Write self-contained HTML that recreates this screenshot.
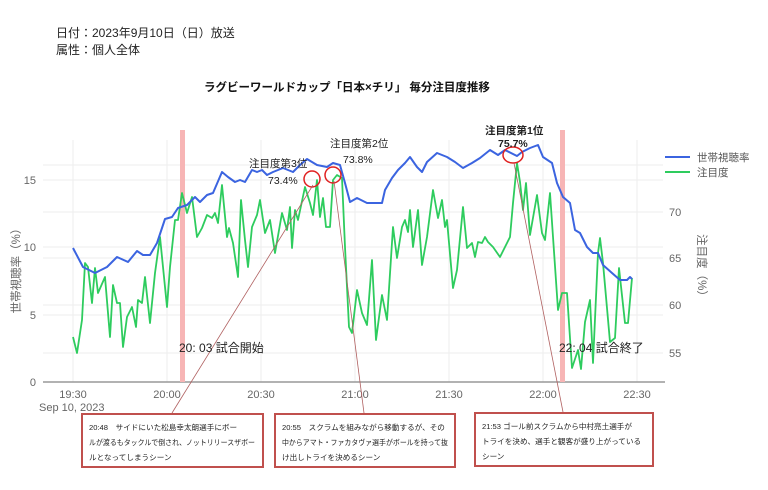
<!DOCTYPE html>
<html><head><meta charset="utf-8"><style>
html,body{margin:0;padding:0;background:#fff;width:768px;height:490px;overflow:hidden}
svg{font-family:"Liberation Sans","Noto Sans CJK JP",sans-serif}
</style></head><body>
<svg width="768" height="490" viewBox="0 0 768 490" xmlns="http://www.w3.org/2000/svg">
<text x="56" y="37" font-size="12" fill="#222">日付：2023年9月10日（日）放送</text>
<text x="56" y="54" font-size="12" fill="#222">属性：個人全体</text>
<text x="204" y="91" font-size="11.5" font-weight="bold" fill="#111">ラグビーワールドカップ「日本×チリ」 毎分注目度推移</text>
<g stroke="#eeeeee" stroke-width="1">
<line x1="73" y1="140" x2="73" y2="382"/><line x1="167" y1="140" x2="167" y2="382"/><line x1="261" y1="140" x2="261" y2="382"/><line x1="355" y1="140" x2="355" y2="382"/><line x1="449" y1="140" x2="449" y2="382"/><line x1="543" y1="140" x2="543" y2="382"/><line x1="637" y1="140" x2="637" y2="382"/>
<line x1="43" y1="180" x2="663" y2="180"/><line x1="43" y1="247" x2="663" y2="247"/><line x1="43" y1="315" x2="663" y2="315"/>
<line x1="43" y1="212" x2="663" y2="212"/><line x1="43" y1="258" x2="663" y2="258"/><line x1="43" y1="305" x2="663" y2="305"/><line x1="43" y1="353" x2="663" y2="353"/><line x1="43" y1="165" x2="663" y2="165"/>
</g>
<line x1="43" y1="382" x2="665" y2="382" stroke="#999" stroke-width="1.5"/>
<rect x="180" y="130" width="5" height="252" fill="#f7b5b5"/>
<rect x="560" y="130" width="5" height="252" fill="#f7b5b5"/>
<g font-size="11" fill="#666">
<text x="36" y="386" text-anchor="end">0</text><text x="36" y="319" text-anchor="end">5</text><text x="36" y="251" text-anchor="end">10</text><text x="36" y="184" text-anchor="end">15</text>
<text x="669" y="216">70</text><text x="669" y="262">65</text><text x="669" y="309">60</text><text x="669" y="357">55</text>
<text x="73" y="398" text-anchor="middle">19:30</text><text x="167" y="398" text-anchor="middle">20:00</text><text x="261" y="398" text-anchor="middle">20:30</text><text x="355" y="398" text-anchor="middle">21:00</text><text x="449" y="398" text-anchor="middle">21:30</text><text x="543" y="398" text-anchor="middle">22:00</text><text x="637" y="398" text-anchor="middle">22:30</text>
<text x="39" y="411">Sep 10, 2023</text>
</g>
<text transform="translate(20,268) rotate(-90)" font-size="11.5" fill="#666" text-anchor="middle">世帯視聴率（%）</text>
<text transform="translate(698,268) rotate(90)" font-size="11.5" fill="#666" text-anchor="middle">注目度（%）</text>
<polyline fill="none" stroke="#2ecc5e" stroke-width="1.8" stroke-linejoin="round" points="73,337 77,353 82,320 85,263 88,267 92,303 95,268 98,293 105,277 110,337 113,285 117,303 120,303 123,347 127,317 132,307 136,327 138,300 142,303 145,277 150,323 155,273 160,237 167,307 170,267 175,220 178,220 182,193 187,213 192,197 197,237 202,228 207,215 212,218 215,213 218,223 222,185 227,237 229,228 233,243 238,277 241,200 245,240 248,267 252,227 257,215 260,200 265,233 270,220 275,253 282,213 287,230 290,207 292,248 295,210 298,220 305,187 310,203 313,215 317,180 320,217 323,198 326,227 330,227 333,180 337,175 342,178 345,247 349,327 352,333 357,290 362,313 367,325 372,260 376,340 382,295 387,320 393,227 397,258 402,227 405,220 408,232 410,210 413,247 418,210 422,265 427,237 433,190 438,218 442,200 445,227 447,220 453,288 457,270 463,207 467,248 472,243 475,257 478,242 482,243 485,237 488,242 493,247 500,257 510,237 513,203 517,163 520,182 523,210 526,183 530,235 537,195 542,233 545,240 550,193 558,310 562,293 567,293 572,368 578,350 581,369 585,322 590,300 593,363 598,253 600,238 603,263 610,342 615,338 619,268 625,323 628,323 632,278"/>
<polyline fill="none" stroke="#3b64e0" stroke-width="2" stroke-linejoin="round" points="73,248 83,267 95,273 107,267 117,257 128,262 137,251 143,255 150,255 157,243 165,219 172,217 178,208 187,205 195,197 200,202 207,195 213,193 222,172 228,177 235,182 240,180 245,182 252,170 257,172 262,170 267,175 273,172 283,168 293,172 300,165 307,159 317,165 327,167 333,163 340,165 345,183 350,202 357,198 367,203 373,203 382,203 385,190 392,178 398,170 405,163 410,157 417,167 422,172 427,162 437,153 447,157 455,162 463,168 472,163 480,158 490,150 498,155 505,150 517,156 522,152 530,148 538,145 543,157 552,163 557,183 563,197 570,203 575,230 580,233 587,247 593,253 598,253 603,265 612,273 620,280 627,280 630,277 632,279"/>
<g fill="none" stroke="#e02020" stroke-width="1.5">
<ellipse cx="312" cy="179" rx="8" ry="8"/><ellipse cx="333" cy="175" rx="8" ry="8"/><ellipse cx="513" cy="155" rx="10" ry="8"/>
</g>
<g stroke="#b06060" stroke-width="0.8">
<line x1="172" y1="413" x2="313" y2="185"/><line x1="364" y1="413" x2="334" y2="181"/><line x1="563" y1="412" x2="514" y2="163"/>
</g>
<g font-size="10.5" fill="#222">
<text x="249" y="167">注目度第3位</text><text x="268" y="184">73.4%</text>
<text x="330" y="147">注目度第2位</text><text x="343" y="163">73.8%</text>
<text x="485" y="134" font-weight="bold">注目度第1位</text><text x="498" y="147" font-weight="bold">75.7%</text>
</g>
<g font-size="12" fill="#222"><text x="179" y="352">20: 03 試合開始</text><text x="559" y="352">22: 04 試合終了</text></g>
<line x1="665" y1="157" x2="690" y2="157" stroke="#3b64e0" stroke-width="2"/><text x="697" y="161" font-size="10.5" fill="#555">世帯視聴率</text>
<line x1="665" y1="172" x2="690" y2="172" stroke="#2ecc5e" stroke-width="2"/><text x="697" y="176" font-size="10.5" fill="#555">注目度</text>
<g fill="#fff" stroke="#c0504d" stroke-width="2">
<rect x="82" y="414" width="181" height="53"/><rect x="275" y="414" width="180" height="53"/><rect x="475" y="413" width="178" height="53"/>
</g>
<g font-size="7.6" fill="#222">
<text x="89" y="430">20:48　サイドにいた松島幸太朗選手にボー</text><text x="89" y="445" textLength="166" lengthAdjust="spacingAndGlyphs">ルが渡るもタックルで倒され、ノットリリースザボー</text><text x="89" y="460">ルとなってしまうシーン</text>
<text x="282" y="430">20:55　スクラムを組みながら移動するが、その</text><text x="282" y="445" textLength="166" lengthAdjust="spacingAndGlyphs">中からアマト・ファカタヴァ選手がボールを持って抜</text><text x="282" y="460">け出しトライを決めるシーン</text>
<text x="482" y="429">21:53 ゴール前スクラムから中村亮土選手が</text><text x="482" y="444">トライを決め、選手と観客が盛り上がっている</text><text x="482" y="459">シーン</text>
</g>
</svg>
</body></html>
